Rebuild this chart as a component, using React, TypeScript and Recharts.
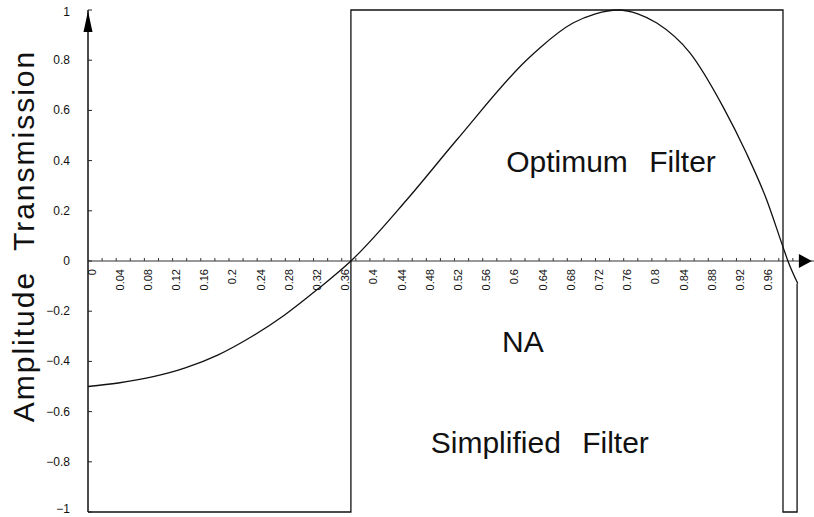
import React from 'react';
import { ComposedChart, Line, XAxis, YAxis, ReferenceLine, ReferenceDot } from 'recharts';

// optimum filter curve (NA vs amplitude)
const curveNA = [0, 0.043, 0.091, 0.138, 0.184, 0.233, 0.279, 0.326, 0.373, 0.452, 0.523, 0.622, 0.641, 0.688, 0.72, 0.752, 0.78, 0.807, 0.854, 0.901, 0.934, 0.962, 0.986, 0.993, 1.007];
const curveAmp = [-0.5, -0.486, -0.462, -0.426, -0.375, -0.3, -0.215, -0.112, 0, 0.243, 0.482, 0.8, 0.849, 0.948, 0.985, 1, 0.985, 0.948, 0.829, 0.614, 0.43, 0.25, 0.056, 0, -0.09];

// simplified (binary) filter
const stepNA = [0, 0.373, 0.373, 0.986, 0.986, 1.006, 1.006];
const stepAmp = [-1, -1, 1, 1, -1, -1, -0.09];

const yTicks = [-1, -0.8, -0.6, -0.4, -0.2, 0, 0.2, 0.4, 0.6, 0.8, 1];
const xMinorTicks = Array.from({ length: 50 }, (_, i) => +((i + 1) * 0.02).toFixed(2));
const xLabelTicks = Array.from({ length: 25 }, (_, i) => +(i * 0.04).toFixed(2));

const notes = [
  { text: 'Optimum Filter', x: 0.742, y: 0.355 },
  { text: 'NA', x: 0.617, y: -0.363 },
  { text: 'Simplified Filter', x: 0.641, y: -0.765 },
];

const curveData = curveNA.map((x, i) => ({ x, y: curveAmp[i] }));
const stepData = stepNA.map((x, i) => ({ x, y: stepAmp[i] }));

const FONT = '"Liberation Sans", Arial, Helvetica, sans-serif';

const fmtY = (v: number) => {
  if (v === 0) return '0';
  const s = Math.abs(v).toString();
  return v < 0 ? '\u2212' + s : s;
};

const YTick = (props: any) => {
  const { x, y, payload } = props;
  // keep the end labels inside the picture
  const ty = payload.value === 1 ? y + 2 : payload.value === -1 ? y - 3 : y;
  return (
    <g>
      <text x={x} y={ty} textAnchor="end" dominantBaseline="central" fontSize={12} fontFamily={FONT} fill="#111">
        {fmtY(payload.value)}
      </text>
      <line x1={x + 18} x2={x + 22} y1={y} y2={y} stroke="#222" strokeWidth={1} />
    </g>
  );
};

const YTitle = (props: any) => {
  const { viewBox } = props;
  const cx = viewBox.x + 15;
  const cy = viewBox.y + viewBox.height / 2 - 25;
  return (
    <text
      x={cx}
      y={cy}
      transform={`rotate(-90 ${cx} ${cy})`}
      textAnchor="middle"
      dominantBaseline="central"
      fontSize={30}
      fontFamily={FONT}
      letterSpacing={2}
      wordSpacing={10}
      fill="#111"
    >
      Amplitude Transmission
    </text>
  );
};

export default function App() {
  return (
    <div style={{ position: 'absolute', left: 0, top: 0, background: '#fff' }}>
      <ComposedChart width={814} height={517} margin={{ top: 10, right: 0, bottom: 5, left: 8 }}>
        <XAxis type="number" dataKey="x" domain={[0, 1.03]} hide allowDuplicatedCategory={false} />
        <YAxis
          type="number"
          domain={[-1, 1]}
          ticks={yTicks}
          width={80}
          tickSize={0}
          tickMargin={18}
          tickLine={false}
          axisLine={{ stroke: '#111', strokeWidth: 1.5 }}
          tick={<YTick />}
          label={<YTitle />}
          interval={0}
        />
        {/* x axis drawn through zero */}
        <ReferenceLine y={0} stroke="#333" strokeWidth={1} />
        {xMinorTicks.map((t) => (
          <ReferenceDot
            key={'m' + t}
            x={t}
            y={0}
            r={0}
            shape={(p: any) => <line x1={p.cx} x2={p.cx} y1={p.cy} y2={p.cy - 3} stroke="#333" strokeWidth={1} />}
          />
        ))}
        {xLabelTicks.map((t) => (
          <ReferenceDot
            key={'l' + t}
            x={t}
            y={0}
            r={0}
            shape={(p: any) => (
              <text
                x={p.cx + 3.5}
                y={p.cy + 8}
                transform={`rotate(-90 ${p.cx + 3.5} ${p.cy + 8})`}
                textAnchor="end"
                dominantBaseline="central"
                fontSize={11}
                fontFamily={FONT}
                fill="#111"
              >
                {t.toString()}
              </text>
            )}
          />
        ))}
        {/* arrow heads */}
        <ReferenceDot
          x={0}
          y={1}
          r={0}
          ifOverflow="visible"
          shape={(p: any) => <path d={`M${p.cx},${p.cy + 1} L${p.cx - 4.5},${p.cy + 22} L${p.cx + 4.5},${p.cy + 22} Z`} fill="#000" />}
        />
        <ReferenceDot
          x={1.027}
          y={0}
          r={0}
          ifOverflow="visible"
          shape={(p: any) => <path d={`M${p.cx},${p.cy} L${p.cx - 13},${p.cy - 7} L${p.cx - 13},${p.cy + 7} Z`} fill="#000" />}
        />
        <Line data={stepData} dataKey="y" type="linear" stroke="#111" strokeWidth={1.3} dot={false} isAnimationActive={false} />
        <Line data={curveData} dataKey="y" type="monotone" stroke="#111" strokeWidth={1.3} dot={false} isAnimationActive={false} />
        {notes.map((n) => (
          <ReferenceDot
            key={n.text}
            x={n.x}
            y={n.y}
            r={0}
            shape={(p: any) => (
              <text x={p.cx} y={p.cy} textAnchor="middle" fontSize={30} fontFamily={FONT} wordSpacing={13} fill="#111">
                {n.text}
              </text>
            )}
          />
        ))}
      </ComposedChart>
    </div>
  );
}
